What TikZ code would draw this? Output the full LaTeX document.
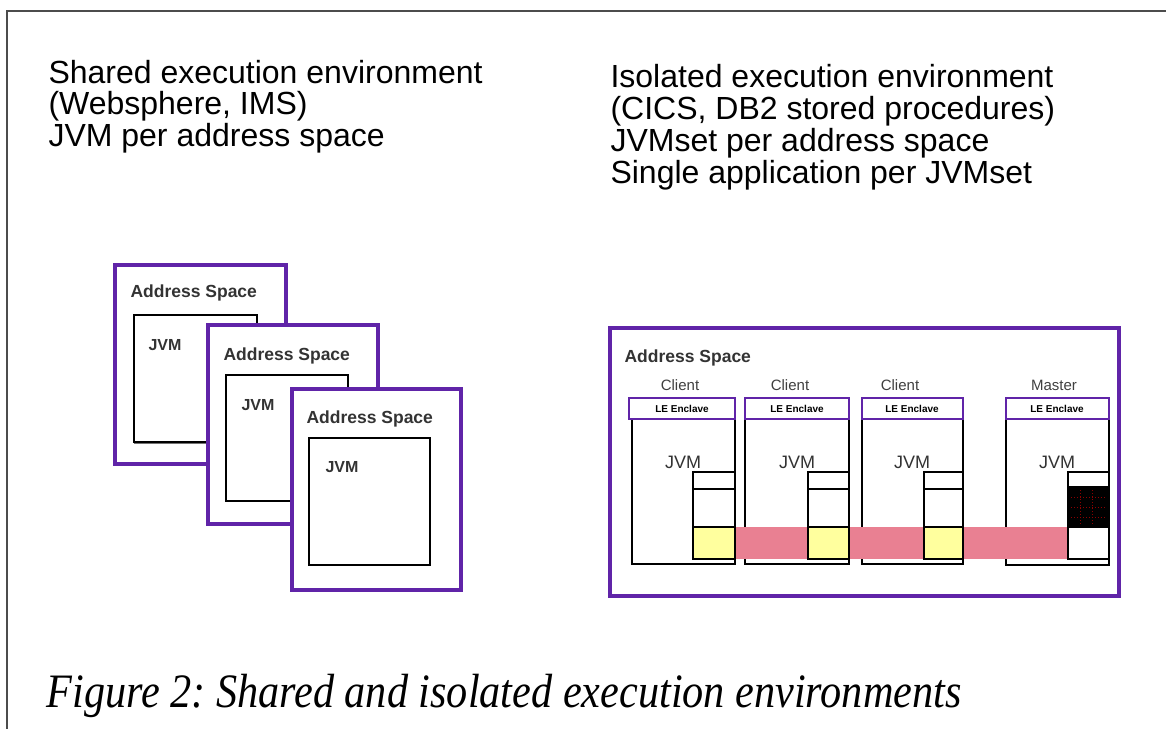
\documentclass[tikz,border=0pt]{standalone}
\usepackage{fontspec}
\setmainfont{Liberation Sans}
\newfontfamily\capfont[FakeStretch=0.88]{Liberation Serif}
\usepackage{tikz}
\definecolor{aspurple}{RGB}{96,36,168}
\definecolor{heappink}{RGB}{233,128,146}
\definecolor{heapyellow}{RGB}{255,255,158}
\tikzset{aspace/.style={draw=aspurple, line width=3.5pt, fill=white}}
\tikzset{jvmbox/.style={draw=black, line width=1.8pt, fill=white}}
\tikzset{lebox/.style={draw=aspurple, line width=2.2pt, fill=white}}
\tikzset{heap/.style={draw=black, line width=2pt}}
\tikzset{head/.style={anchor=base west, font=\fontsize{32}{32}\selectfont, align=left}}
\tikzset{aslabel/.style={anchor=base west, font=\bfseries\fontsize{17.5}{18}\selectfont, text=black!80}}

\begin{document}
\frenchspacing
\begin{tikzpicture}[x=1pt, y=-1pt]
    \useasboundingbox (0,0) rectangle (1166,729);
    \draw [black!70, line width=2pt] (1166,11) -- (7,11) -- (7,729);

    % headings
    \node [head] (shared1) at (45,83) {Shared execution environment};
    \node [head] (shared2) at (45,114.5) {(Websphere, IMS)};
    \node [head] (shared3) at (45,146) {JVM per address space};
    \node [head] (iso1) at (607,87) {Isolated execution environment};
    \node [head] (iso2) at (607,119) {(CICS, DB2 stored procedures)};
    \node [head] (iso3) at (607,151) {JVMset per address space};
    \node [head] (iso4) at (607,183) {Single application per JVMset};

    % shared: three address spaces
    \draw [aspace] (115,265) rectangle (286,464);
    \draw [black!55, line width=2.5pt] (135,316) -- (135,443) -- (257,443);
    \draw [jvmbox] (134,315) rectangle (257,442);
    \node [aslabel] (as1) at (127,297) {Address Space};
    \node [aslabel, font=\bfseries\fontsize{16}{16}\selectfont] (jvm1) at (145,350) {JVM};

    \draw [aspace] (208,325) rectangle (378,524);
    \draw [jvmbox] (226,375) rectangle (348,501);
    \node [aslabel] (as2) at (220,360) {Address Space};
    \node [aslabel, font=\bfseries\fontsize{16}{16}\selectfont] (jvm2) at (238,410) {JVM};

    \draw [aspace] (292,389) rectangle (461,590);
    \draw [jvmbox] (309,438) rectangle (430,565);
    \node [aslabel] (as3) at (303,423) {Address Space};
    \node [aslabel, font=\bfseries\fontsize{16}{16}\selectfont] (jvm3) at (322,472) {JVM};

    % isolated: one address space with a JVMset
    \draw [aspace] (610,328) rectangle (1119,596);
    \node [aslabel] (asr) at (621,362) {Address Space};

    \draw [jvmbox] (632,419) rectangle (735,564);
    \draw [jvmbox] (745,419) rectangle (849,564);
    \draw [jvmbox] (862,419) rectangle (963,564);
    \draw [jvmbox] (1006,419) rectangle (1109,565);

    \draw [lebox] (629,398) rectangle (735,419);
    \draw [lebox] (745,398) rectangle (849,419);
    \draw [lebox] (862,398) rectangle (963,419);
    \draw [lebox] (1006,398) rectangle (1109,419);
    \node [font=\bfseries\fontsize{10}{10}\selectfont] (le1) at (682,408.5) {LE Enclave};
    \node [font=\bfseries\fontsize{10}{10}\selectfont] (le2) at (797,408.5) {LE Enclave};
    \node [font=\bfseries\fontsize{10}{10}\selectfont] (le3) at (912,408.5) {LE Enclave};
    \node [font=\bfseries\fontsize{10}{10}\selectfont] (le4) at (1057,408.5) {LE Enclave};

    \node [font=\fontsize{15}{15}\selectfont, text=black!75] (cl1) at (680,385) {Client};
    \node [font=\fontsize{15}{15}\selectfont, text=black!75] (cl2) at (790,385) {Client};
    \node [font=\fontsize{15}{15}\selectfont, text=black!75] (cl3) at (900,385) {Client};
    \node [font=\fontsize{15}{15}\selectfont, text=black!75] (master) at (1054,385) {Master};

    \node [font=\fontsize{18}{20}\selectfont, text=black!80] (jvmc1) at (683,462) {JVM};
    \node [font=\fontsize{18}{20}\selectfont, text=black!80] (jvmc2) at (797,462) {JVM};
    \node [font=\fontsize{18}{20}\selectfont, text=black!80] (jvmc3) at (912,462) {JVM};
    \node [font=\fontsize{18}{20}\selectfont, text=black!80] (jvmm) at (1057,462) {JVM};

    % shared heap across the set
    \fill [heappink] (735,527) rectangle (1068,559);

    % heaps of each JVM
    \draw [heap, fill=white] (693,472) rectangle (735,489);
    \draw [heap, fill=white] (693,489) rectangle (735,527);
    \draw [heap, fill=heapyellow] (693,527) rectangle (735,559);
    \draw [heap, fill=white] (808,472) rectangle (849,489);
    \draw [heap, fill=white] (808,489) rectangle (849,527);
    \draw [heap, fill=heapyellow] (808,527) rectangle (849,559);
    \draw [heap, fill=white] (924,472) rectangle (963,489);
    \draw [heap, fill=white] (924,489) rectangle (963,527);
    \draw [heap, fill=heapyellow] (924,527) rectangle (963,559);
    \draw [heap, fill=white] (1068,472) rectangle (1109,487);
    \draw [heap, fill=black] (1068,487) rectangle (1109,527);
    \draw [heap, fill=white] (1068,527) rectangle (1109,559);
    \draw [red!55!black, dotted, line width=1pt] (1071,497) -- (1106,497) (1071,507) -- (1106,507)
        (1071,517) -- (1106,517) (1080,490) -- (1080,524) (1092,490) -- (1092,524);

    % caption
    \node [anchor=base west, font=\capfont\itshape\fontsize{48}{48}\selectfont] (caption) at (43,707)
        {Figure 2: Shared and isolated execution environments};
\end{tikzpicture}
\end{document}
